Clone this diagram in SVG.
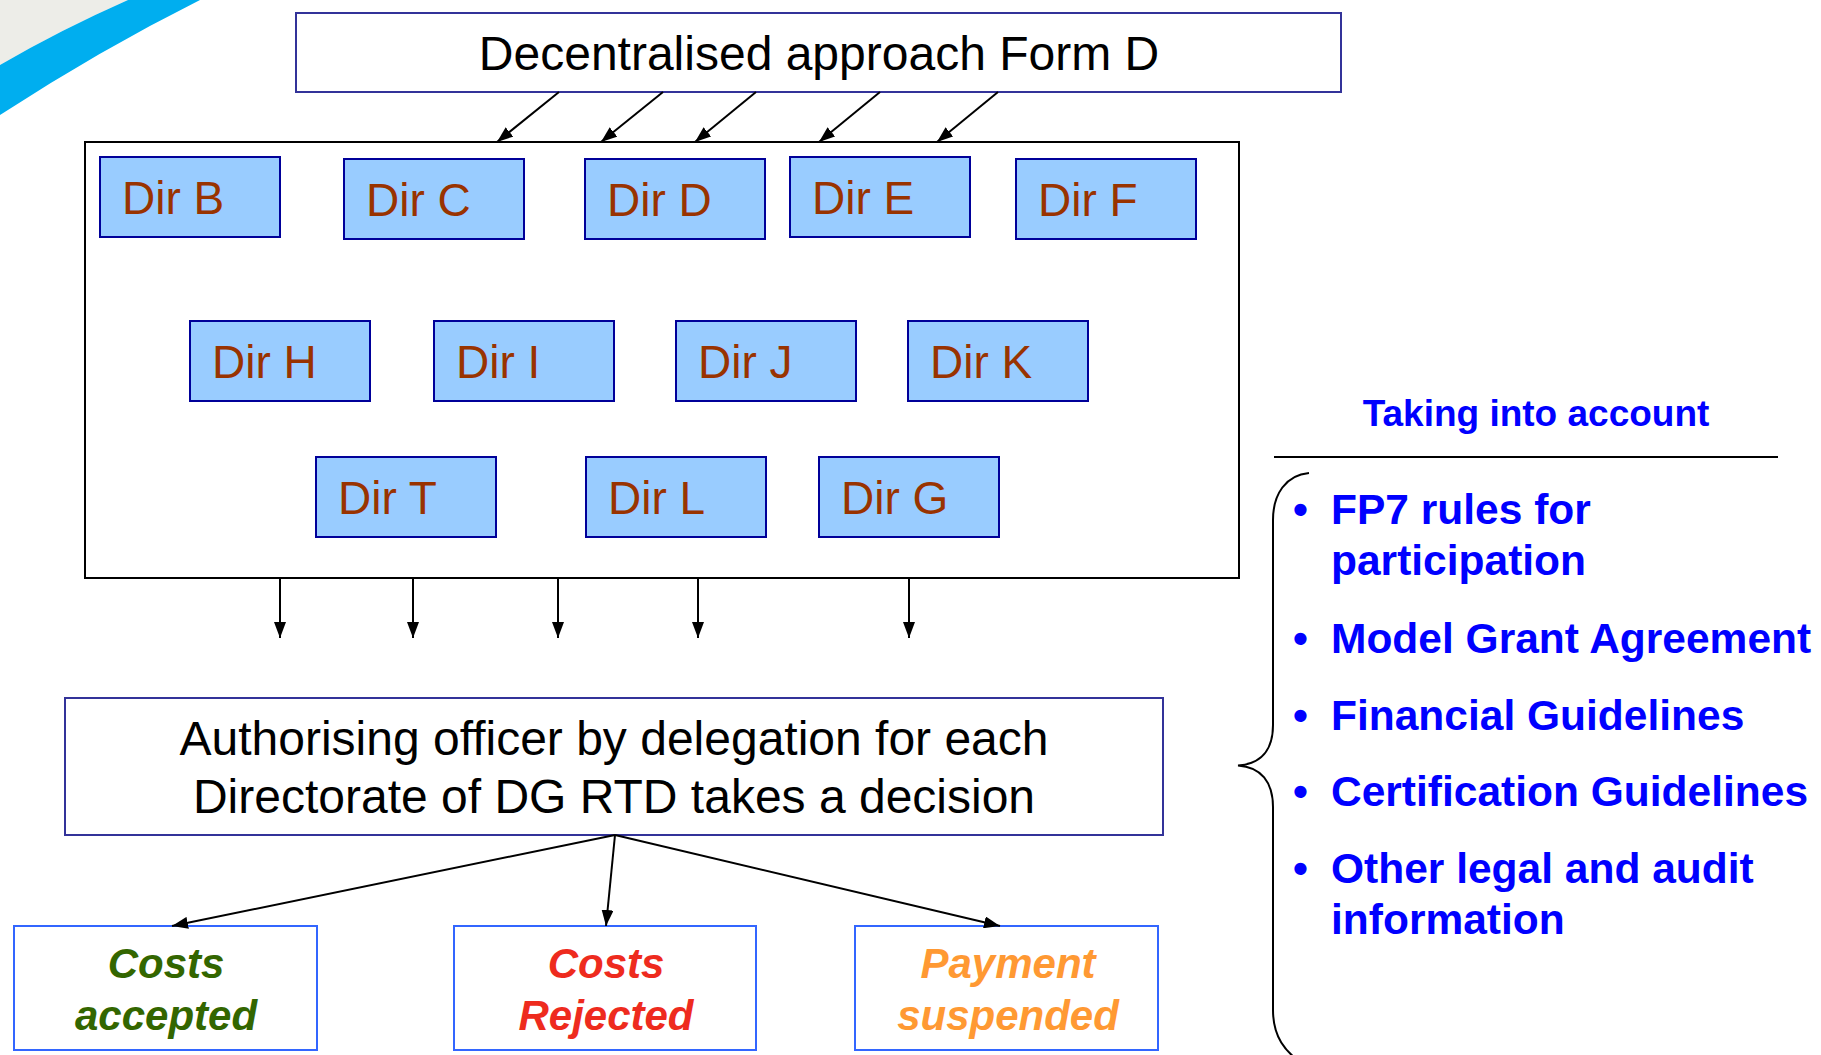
<svg xmlns="http://www.w3.org/2000/svg" width="1821" height="1055" viewBox="0 0 1821 1055">
  <style>
    .dir rect { fill: #99CCFF; stroke: #000099; stroke-width: 2; }
    .dir text { font-family: "Liberation Sans", Arial, sans-serif; font-size: 46px; fill: #993300; }
    .frame { fill: #FFFFFF; stroke: #333399; stroke-width: 2; }
    .outcome { fill: #FFFFFF; stroke: #3366FF; stroke-width: 2; }
    .big { font-family: "Liberation Sans", Arial, sans-serif; font-size: 48px; fill: #000000; text-anchor: middle; }
    .res { font-family: "Liberation Sans", Arial, sans-serif; font-size: 42px; font-weight: bold; font-style: italic; text-anchor: middle; }
    .side { font-family: "Liberation Sans", Arial, sans-serif; font-weight: bold; fill: #0000FF; }
    .conn { stroke: #000000; stroke-width: 2; fill: none; marker-end: url(#head); }
  </style>
  <defs>
    <marker id="head" markerUnits="userSpaceOnUse" markerWidth="16" markerHeight="12" refX="16" refY="6" orient="auto">
      <path d="M0,0 L16,6 L0,12 z" fill="#000000"/>
    </marker>
  </defs>

  <rect x="0" y="0" width="1821" height="1055" fill="#FFFFFF"/>

  <!-- corner swoosh -->
  <path d="M0,0 L128,0 Q60,30 0,65 Z" fill="#EDEDE8"/>
  <path d="M128,0 L200,0 Q100,50 0,115 L0,65 Q60,30 128,0 Z" fill="#00AEEF"/>

  <!-- source form -->
  <g id="form-d">
    <rect class="frame" x="296" y="13" width="1045" height="79"/>
    <text class="big" x="819" y="70">Decentralised approach Form D</text>
  </g>

  <!-- directorates container -->
  <g id="directorates">
    <rect x="85" y="142" width="1154" height="436" fill="#FFFFFF" stroke="#000000" stroke-width="2"/>
  </g>

  <g id="dir-b" class="dir"><rect x="100" y="157" width="180" height="80"/><text x="122" y="214">Dir B</text></g>
  <g id="dir-c" class="dir"><rect x="344" y="159" width="180" height="80"/><text x="366" y="216">Dir C</text></g>
  <g id="dir-d" class="dir"><rect x="585" y="159" width="180" height="80"/><text x="607" y="216">Dir D</text></g>
  <g id="dir-e" class="dir"><rect x="790" y="157" width="180" height="80"/><text x="812" y="214">Dir E</text></g>
  <g id="dir-f" class="dir"><rect x="1016" y="159" width="180" height="80"/><text x="1038" y="216">Dir F</text></g>

  <g id="dir-h" class="dir"><rect x="190" y="321" width="180" height="80"/><text x="212" y="378">Dir H</text></g>
  <g id="dir-i" class="dir"><rect x="434" y="321" width="180" height="80"/><text x="456" y="378">Dir I</text></g>
  <g id="dir-j" class="dir"><rect x="676" y="321" width="180" height="80"/><text x="698" y="378">Dir J</text></g>
  <g id="dir-k" class="dir"><rect x="908" y="321" width="180" height="80"/><text x="930" y="378">Dir K</text></g>

  <g id="dir-t" class="dir"><rect x="316" y="457" width="180" height="80"/><text x="338" y="514">Dir T</text></g>
  <g id="dir-l" class="dir"><rect x="586" y="457" width="180" height="80"/><text x="608" y="514">Dir L</text></g>
  <g id="dir-g" class="dir"><rect x="819" y="457" width="180" height="80"/><text x="841" y="514">Dir G</text></g>

  <!-- decision maker -->
  <g id="authorising-officer">
    <rect class="frame" x="65" y="698" width="1098" height="137"/>
    <text class="big" x="614" y="755">Authorising officer by delegation for each</text>
    <text class="big" x="614" y="813">Directorate of DG RTD takes a decision</text>
  </g>

  <!-- outcomes -->
  <g id="costs-accepted">
    <rect class="outcome" x="14" y="926" width="303" height="124"/>
    <text class="res" x="166" y="978" fill="#336600">Costs</text>
    <text class="res" x="166" y="1030" fill="#336600">accepted</text>
  </g>
  <g id="costs-rejected">
    <rect class="outcome" x="454" y="926" width="302" height="124"/>
    <text class="res" x="606" y="978" fill="#EE2B1E">Costs</text>
    <text class="res" x="606" y="1030" fill="#EE2B1E">Rejected</text>
  </g>
  <g id="payment-suspended">
    <rect class="outcome" x="855" y="926" width="303" height="124"/>
    <text class="res" x="1008" y="978" fill="#FF9933">Payment</text>
    <text class="res" x="1008" y="1030" fill="#FF9933">suspended</text>
  </g>

  <!-- reference documents -->
  <g id="taking-into-account">
    <text class="side" x="1536" y="426" font-size="37" text-anchor="middle">Taking into account</text>
    <line x1="1274" y1="457" x2="1778" y2="457" stroke="#000000" stroke-width="2"/>
    <path d="M1309,473 C1286,475 1273,494 1273,520 L1273,725 C1273,750 1261,764 1238,765.5 C1261,767 1273,782 1273,807 L1273,1010 C1273,1036 1284,1052 1306,1066" fill="none" stroke="#000000" stroke-width="2"/>
    <g class="side" font-size="42.5">
      <text x="1293" y="524">•</text>
      <text x="1331" y="524">FP7 rules for</text>
      <text x="1331" y="575">participation</text>
      <text x="1293" y="653">•</text>
      <text x="1331" y="653">Model Grant Agreement</text>
      <text x="1293" y="730">•</text>
      <text x="1331" y="730">Financial Guidelines</text>
      <text x="1293" y="806">•</text>
      <text x="1331" y="806">Certification Guidelines</text>
      <text x="1293" y="883">•</text>
      <text x="1331" y="883">Other legal and audit</text>
      <text x="1331" y="934">information</text>
    </g>
  </g>

  <!-- connectors -->
  <g id="connectors">
    <line class="conn" x1="559" y1="92" x2="497" y2="142"/>
    <line class="conn" x1="663" y1="92" x2="601" y2="142"/>
    <line class="conn" x1="756" y1="92" x2="695" y2="142"/>
    <line class="conn" x1="880" y1="92" x2="819" y2="142"/>
    <line class="conn" x1="998" y1="92" x2="937" y2="142"/>

    <line class="conn" x1="280" y1="578" x2="280" y2="638"/>
    <line class="conn" x1="413" y1="578" x2="413" y2="638"/>
    <line class="conn" x1="558" y1="578" x2="558" y2="638"/>
    <line class="conn" x1="698" y1="578" x2="698" y2="638"/>
    <line class="conn" x1="909" y1="578" x2="909" y2="638"/>

    <line class="conn" x1="615" y1="835" x2="172" y2="926"/>
    <line class="conn" x1="615" y1="835" x2="606" y2="926"/>
    <line class="conn" x1="615" y1="835" x2="1000" y2="926"/>
  </g>
</svg>
